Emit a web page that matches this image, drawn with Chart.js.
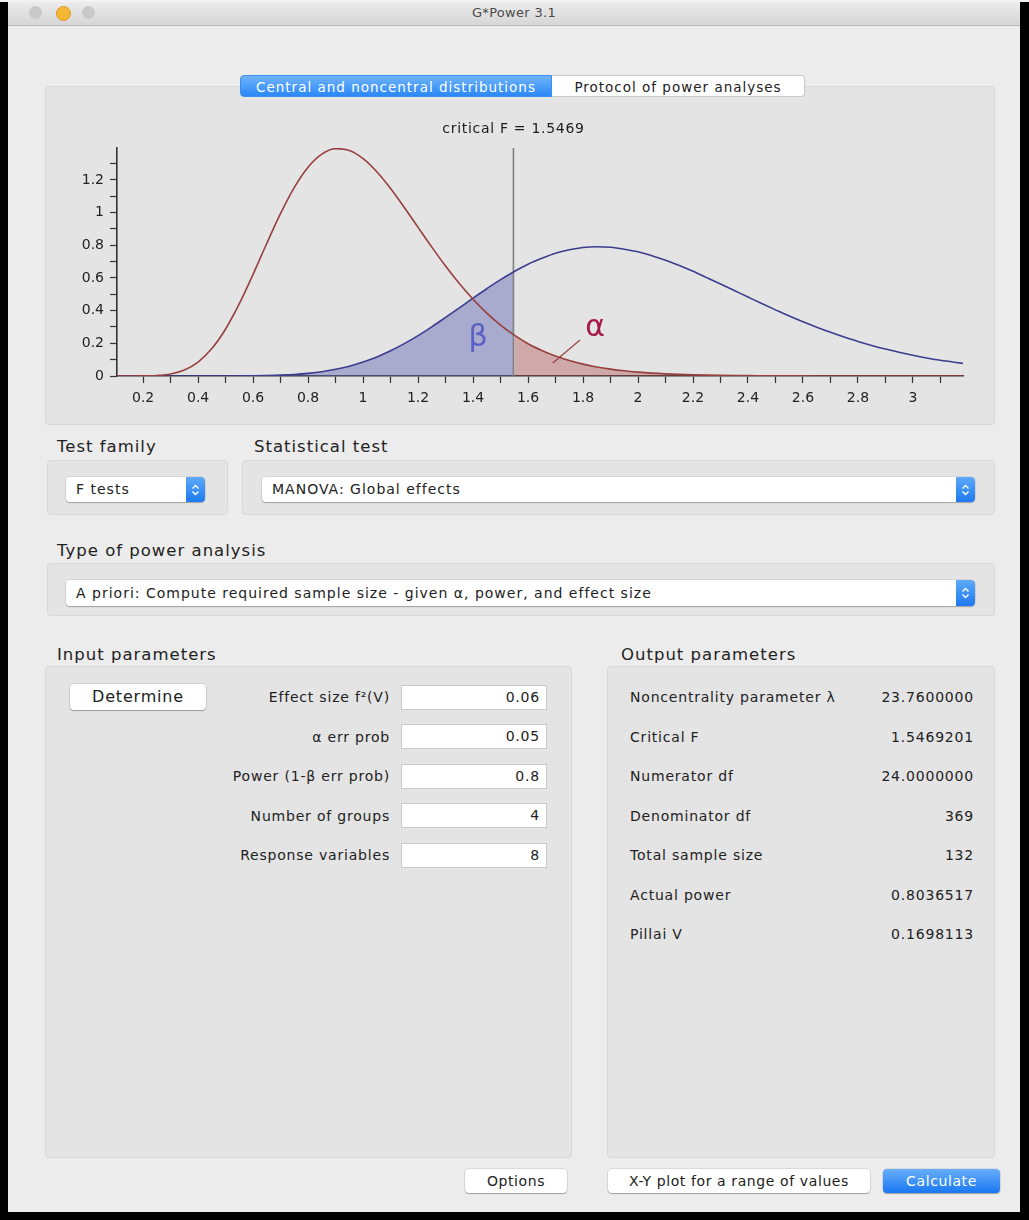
<!DOCTYPE html>
<html>
<head>
<meta charset="utf-8">
<title>G*Power 3.1</title>
<script src="https://cdn.jsdelivr.net/npm/chart.js@4.4.1/dist/chart.umd.min.js"></script>
<style>
  body { margin: 0; width: 1029px; height: 1220px; background: #000; position: relative; overflow: hidden;
         font-family: "DejaVu Sans", sans-serif; color: #222; }
  .abs { position: absolute; }
  .topstrip { left: 0; top: 0; width: 1029px; height: 2px; background: #f2f2f2; }
  .win { left: 8px; top: 2px; width: 1012px; height: 1210px; background: #ececec; }
  .titlebar { left: 8px; top: 2px; width: 1012px; height: 23px; background: linear-gradient(#ececec, #d6d6d6);
              border-bottom: 1px solid #b9b9b9; }
  .title { left: 8px; top: 2px; width: 1012px; height: 22px; line-height: 22px; text-align: center;
           font-size: 13px; color: #4a4a4a; letter-spacing: 0.3px; }
  .light { width: 13px; height: 13px; border-radius: 50%; top: 6px; }
  .panel { background: #e4e4e4; border: 1px solid #d8d8d8; border-radius: 4px; box-sizing: border-box; }
  .tab { top: 75px; height: 22px; line-height: 22px; font-size: 13.5px; letter-spacing: 1px; text-align: center;
         box-sizing: border-box; white-space: nowrap; }
  .tab.on { left: 240px; width: 312px; color: #fff; border-radius: 4px 0 0 4px;
            background: linear-gradient(#6fb3fb, #2a88f7); border: 1px solid #3b8ff0; }
  .tab.off { left: 552px; width: 253px; color: #222; background: #fff; border: 1px solid #c9c9c9;
             border-left: none; border-radius: 0 4px 4px 0; }
  .head { font-size: 16.5px; letter-spacing: 1px; height: 22px; line-height: 22px; white-space: nowrap; }
  .select { background: #fff; border-radius: 4px; box-shadow: 0 1px 1px rgba(0,0,0,0.25), 0 0 0 0.5px rgba(0,0,0,0.12);
            font-size: 14px; letter-spacing: 1px; box-sizing: border-box; padding-left: 10px; white-space: nowrap; }
  .stepper { position: absolute; right: 0; top: 0; width: 19px; height: 100%; border-radius: 0 4px 4px 0;
             background: linear-gradient(#5eaaf9, #1d79f0); }
  .stepper svg { position: absolute; left: 5px; top: 50%; margin-top: -6px; }
  .btn { background: #fff; border-radius: 4px; box-shadow: 0 1px 1px rgba(0,0,0,0.28), 0 0 0 0.5px rgba(0,0,0,0.15);
         text-align: center; box-sizing: border-box; white-space: nowrap; }
  .btn.blue { background: linear-gradient(#66aefa, #1a78f2); color: #fff; }
  .lbl { font-size: 14px; letter-spacing: 0.8px; height: 20px; line-height: 20px; white-space: nowrap; }
  .field { background: #fff; border: 1px solid #c9c9c9; box-sizing: border-box; font-size: 14px; letter-spacing: 0.8px;
           text-align: right; padding-right: 6px; }
  #chartBox { left: 45px; top: 100px; width: 950px; height: 325px; }
</style>
</head>
<body>
<div class="abs topstrip"></div>
<div class="abs win"></div>
<div class="abs titlebar"></div>
<div class="abs light" style="left:29px;background:#c9c9c9;"></div>
<div class="abs light" style="left:56px;background:#f5b731;border:0.5px solid #d9982a;"></div>
<div class="abs light" style="left:82px;background:#c9c9c9;"></div>
<div class="abs title">G*Power 3.1</div>

<div class="abs panel" style="left:45px;top:86px;width:950px;height:339px;"></div>
<div class="abs tab on">Central and noncentral distributions</div>
<div class="abs tab off">Protocol of power analyses</div>
<div class="abs" id="chartBox"><canvas id="distChart" width="950" height="325"></canvas></div>

<div class="abs head" style="left:57px;top:436px;">Test family</div>
<div class="abs head" style="left:254px;top:436px;">Statistical test</div>
<div class="abs panel" style="left:47px;top:460px;width:181px;height:55px;"></div>
<div class="abs panel" style="left:242px;top:460px;width:753px;height:55px;"></div>
<div class="abs select" id="selFamily" style="left:66px;top:477px;width:139px;height:25px;line-height:25px;">F tests</div>
<div class="abs select" id="selTest" style="left:262px;top:477px;width:713px;height:25px;line-height:25px;">MANOVA: Global effects</div>

<div class="abs head" style="left:57px;top:540px;">Type of power analysis</div>
<div class="abs panel" style="left:47px;top:563px;width:948px;height:53px;"></div>
<div class="abs select" id="selType" style="left:66px;top:580px;width:909px;height:26px;line-height:26px;">A priori: Compute required sample size - given α, power, and effect size</div>

<div class="abs head" style="left:57px;top:644px;">Input parameters</div>
<div class="abs head" style="left:621px;top:644px;">Output parameters</div>
<div class="abs panel" style="left:45px;top:666px;width:527px;height:492px;"></div>
<div class="abs panel" style="left:607px;top:666px;width:388px;height:492px;"></div>
<div class="abs btn" style="left:70px;top:684px;width:136px;height:26px;line-height:26px;font-size:16px;letter-spacing:0.8px;">Determine</div>
<div id="rows"></div>

<div class="abs btn" style="left:465px;top:1169px;width:102px;height:24px;line-height:24px;font-size:14px;letter-spacing:0.6px;">Options</div>
<div class="abs btn" style="left:608px;top:1169px;width:262px;height:24px;line-height:24px;font-size:14px;letter-spacing:0.6px;">X-Y plot for a range of values</div>
<div class="abs btn blue" style="left:883px;top:1169px;width:117px;height:24px;line-height:24px;font-size:14px;letter-spacing:0.6px;">Calculate</div>

<script>
const fValues = [
  0.10, 0.15, 0.20, 0.25, 0.30, 0.35, 0.40, 0.45, 0.50, 0.55,
  0.60, 0.65, 0.70, 0.75, 0.80, 0.85, 0.90, 0.95, 1.00, 1.05,
  1.10, 1.15, 1.20, 1.25, 1.30, 1.35, 1.40, 1.45, 1.50, 1.55,
  1.60, 1.65, 1.70, 1.75, 1.80, 1.85, 1.90, 1.95, 2.00, 2.05,
  2.10, 2.15, 2.20, 2.25, 2.30, 2.35, 2.40, 2.45, 2.50, 2.55,
  2.60, 2.65, 2.70, 2.75, 2.80, 2.85, 2.90, 2.95, 3.00, 3.05,
  3.10, 3.15, 3.20
];

// central F (H0), red curve
const centralDensity = [
  0, 0, 0.0005, 0.0032, 0.0126, 0.0368, 0.0855, 0.1678, 0.2876, 0.4423,
  0.6222, 0.8122, 0.9950, 1.1545, 1.2779, 1.3575, 1.3906, 1.3795, 1.3298, 1.2495,
  1.1469, 1.0311, 0.9094, 0.7884, 0.6727, 0.5658, 0.4695, 0.3848, 0.3119, 0.2501,
  0.1975, 0.1563, 0.1220, 0.0945, 0.0726, 0.0553, 0.0421, 0.0317, 0.0238, 0.0177,
  0.0132, 0.0097, 0.0072, 0.0052, 0.0038, 0.0028, 0.0020, 0.0015, 0.0010, 0.0007,
  0.0005, 0.0004, 0.0003, 0.0002, 0.0001, 0.0001, 0.0001, 0, 0, 0,
  0, 0, 0
];

// noncentral F (H1), blue curve
const noncentralDensity = [
  0, 0, 0, 0, 0, 0, 0, 0.0001, 0.0002, 0.0005,
  0.0012, 0.0026, 0.0051, 0.0093, 0.0163, 0.0262, 0.0408, 0.0600, 0.0854, 0.1163,
  0.1544, 0.1980, 0.2474, 0.3010, 0.3584, 0.4172, 0.4767, 0.5340, 0.5893, 0.6396,
  0.6840, 0.7200, 0.7512, 0.7720, 0.7859, 0.7910, 0.7877, 0.7760, 0.7599, 0.7360,
  0.7084, 0.6760, 0.6404, 0.6020, 0.5631, 0.5230, 0.4828, 0.4430, 0.4046, 0.3670,
  0.3320, 0.2990, 0.2674, 0.2380, 0.2116, 0.1870, 0.1647, 0.1450, 0.1264, 0.1100,
  0.0960, 0.0840, 0.0730
];

const criticalF = 1.5469;

const xTickValues = [0.2, 0.3, 0.4, 0.5, 0.6, 0.7, 0.8, 0.9, 1.0, 1.1, 1.2, 1.3, 1.4, 1.5, 1.6,
                     1.7, 1.8, 1.9, 2.0, 2.1, 2.2, 2.3, 2.4, 2.5, 2.6, 2.7, 2.8, 2.9, 3.0, 3.1];
const xTickLabels = ['0.2', '', '0.4', '', '0.6', '', '0.8', '', '1', '', '1.2', '', '1.4', '', '1.6',
                     '', '1.8', '', '2', '', '2.2', '', '2.4', '', '2.6', '', '2.8', '', '3', ''];
const yTickValues = [0, 0.1, 0.2, 0.3, 0.4, 0.5, 0.6, 0.7, 0.8, 0.9, 1.0, 1.1, 1.2, 1.3];
const yTickLabels = ['0', '', '0.2', '', '0.4', '', '0.6', '', '0.8', '', '1', '', '1.2', ''];

const xMin = 0.105;
const xMax = 3.182;
const yMax = 1.395;

const inputLabels = ['Effect size f²(V)', 'α err prob', 'Power (1-β err prob)', 'Number of groups', 'Response variables'];
const inputValues = ['0.06', '0.05', '0.8', '4', '8'];
const outputLabels = ['Noncentrality parameter λ', 'Critical F', 'Numerator df', 'Denominator df',
                      'Total sample size', 'Actual power', 'Pillai V'];
const outputValues = ['23.7600000', '1.5469201', '24.0000000', '369', '132', '0.8036517', '0.1698113'];

// parameter rows
(function buildRows() {
  const rows = document.getElementById('rows');
  const pitch = 39.5;
  inputLabels.forEach(function(label, i) {
    const cy = 697 + i * pitch;
    rows.insertAdjacentHTML('beforeend',
      '<div class="abs lbl" style="right:' + (1029 - 390) + 'px;top:' + (cy - 10) + 'px;">' + label + '</div>' +
      '<div class="abs field" style="left:401px;top:' + (cy - 12.5) + 'px;width:146px;height:25px;line-height:23px;">' + inputValues[i] + '</div>');
  });
  outputLabels.forEach(function(label, i) {
    const cy = 697 + i * pitch;
    rows.insertAdjacentHTML('beforeend',
      '<div class="abs lbl" style="left:630px;top:' + (cy - 10) + 'px;">' + label + '</div>' +
      '<div class="abs lbl" style="right:' + (1029 - 974) + 'px;top:' + (cy - 10) + 'px;">' + outputValues[i] + '</div>');
  });
  // blue up/down steppers on the popups
  const arrows = '<svg width="9" height="12" viewBox="0 0 9 12"><polyline points="1.5,4.5 4.5,1.5 7.5,4.5" fill="none" stroke="#fff" stroke-width="1.4"/>' +
                 '<polyline points="1.5,7.5 4.5,10.5 7.5,7.5" fill="none" stroke="#fff" stroke-width="1.4"/></svg>';
  ['selFamily', 'selTest', 'selType'].forEach(function(id) {
    document.getElementById(id).insertAdjacentHTML('beforeend', '<div class="stepper">' + arrows + '</div>');
  });
})();

function toPoints(values) {
  return fValues.map(function(f, i) { return {x: f, y: values[i]}; });
}

const betaColor = 'rgba(100, 104, 180, 0.47)';
const alphaColor = 'rgba(175, 80, 80, 0.40)';

// labels drawn on the plot: caption of the critical line, beta and alpha
const labelsPlugin = {
  id: 'gpowerLabels',
  afterDatasetsDraw: function(chart) {
    const ctx = chart.ctx;
    const xs = chart.scales.x;
    const ys = chart.scales.y;
    ctx.save();
    ctx.textAlign = 'center';
    ctx.textBaseline = 'middle';
    ctx.font = '14px "DejaVu Sans"';
    ctx.letterSpacing = '0.7px';
    ctx.fillStyle = '#1c1c1c';
    ctx.fillText('critical F = ' + criticalF.toFixed(4), xs.getPixelForValue(criticalF), chart.chartArea.top - 19);

    ctx.letterSpacing = '0px';
    ctx.font = '30px "DejaVu Sans"';
    ctx.fillStyle = '#5a60c4';
    ctx.fillText('β', xs.getPixelForValue(1.418), ys.getPixelForValue(0.232));

    ctx.fillStyle = '#a8194b';
    ctx.fillText('α', xs.getPixelForValue(1.844), ys.getPixelForValue(0.292));

    ctx.strokeStyle = '#9a4040';
    ctx.lineWidth = 1.2;
    ctx.beginPath();
    ctx.moveTo(xs.getPixelForValue(1.69), ys.getPixelForValue(0.08));
    ctx.lineTo(xs.getPixelForValue(1.789), ys.getPixelForValue(0.22));
    ctx.stroke();
    ctx.restore();
  }
};

const tickFont = {family: '"DejaVu Sans"', size: 14};

new Chart(document.getElementById('distChart'), {
  type: 'line',
  data: {
    datasets: [
      {
        label: 'beta',
        data: toPoints(noncentralDensity),
        fill: 'origin',
        backgroundColor: betaColor,
        borderWidth: 0,
        pointRadius: 0,
        cubicInterpolationMode: 'monotone',
        segment: {
          backgroundColor: function(c) { return c.p0.parsed.x < criticalF ? betaColor : 'rgba(0,0,0,0)'; }
        },
        order: 5
      },
      {
        label: 'alpha',
        data: toPoints(centralDensity),
        fill: 'origin',
        backgroundColor: alphaColor,
        borderWidth: 0,
        pointRadius: 0,
        cubicInterpolationMode: 'monotone',
        segment: {
          backgroundColor: function(c) { return c.p0.parsed.x >= criticalF ? alphaColor : 'rgba(0,0,0,0)'; }
        },
        order: 4
      },
      {
        label: 'critical F',
        data: [{x: criticalF, y: 0}, {x: criticalF, y: yMax}],
        borderColor: '#808080',
        borderWidth: 1.6,
        pointRadius: 0,
        fill: false,
        order: 3
      },
      {
        label: 'H1',
        data: toPoints(noncentralDensity),
        borderColor: '#3d3d8f',
        borderWidth: 1.6,
        pointRadius: 0,
        fill: false,
        cubicInterpolationMode: 'monotone',
        order: 2
      },
      {
        label: 'H0',
        data: toPoints(centralDensity),
        borderColor: '#983f3f',
        borderWidth: 1.6,
        pointRadius: 0,
        fill: false,
        cubicInterpolationMode: 'monotone',
        order: 1
      }
    ]
  },
  options: {
    responsive: false,
    animation: false,
    devicePixelRatio: 1,
    layout: {padding: {left: 0, right: 32, top: 48, bottom: 0}},
    plugins: {
      legend: {display: false},
      tooltip: {enabled: false}
    },
    scales: {
      x: {
        type: 'linear',
        bounds: 'data',
        min: xMin,
        max: xMax,
        afterBuildTicks: function(scale) {
          scale.ticks = xTickValues.map(function(v) { return {value: v}; });
        },
        afterFit: function(scale) { scale.height = 49; },
        ticks: {
          autoSkip: false,
          maxRotation: 0,
          padding: 7,
          color: '#222',
          font: tickFont,
          callback: function(value, index) { return xTickLabels[index]; }
        },
        grid: {drawOnChartArea: false, drawTicks: true, tickLength: 7, tickColor: '#333', tickWidth: 1.2},
        border: {display: true, color: '#333', width: 1.6}
      },
      y: {
        type: 'linear',
        bounds: 'data',
        min: 0,
        max: yMax,
        afterBuildTicks: function(scale) {
          scale.ticks = yTickValues.map(function(v) { return {value: v}; });
        },
        afterFit: function(scale) { scale.width = 72; },
        ticks: {
          autoSkip: false,
          padding: 6,
          color: '#222',
          font: tickFont,
          callback: function(value, index) { return yTickLabels[index]; }
        },
        grid: {drawOnChartArea: false, drawTicks: true, tickLength: 7, tickColor: '#333', tickWidth: 1.2},
        border: {display: true, color: '#333', width: 1.6}
      }
    }
  },
  plugins: [labelsPlugin]
});
</script>
</body>
</html>
